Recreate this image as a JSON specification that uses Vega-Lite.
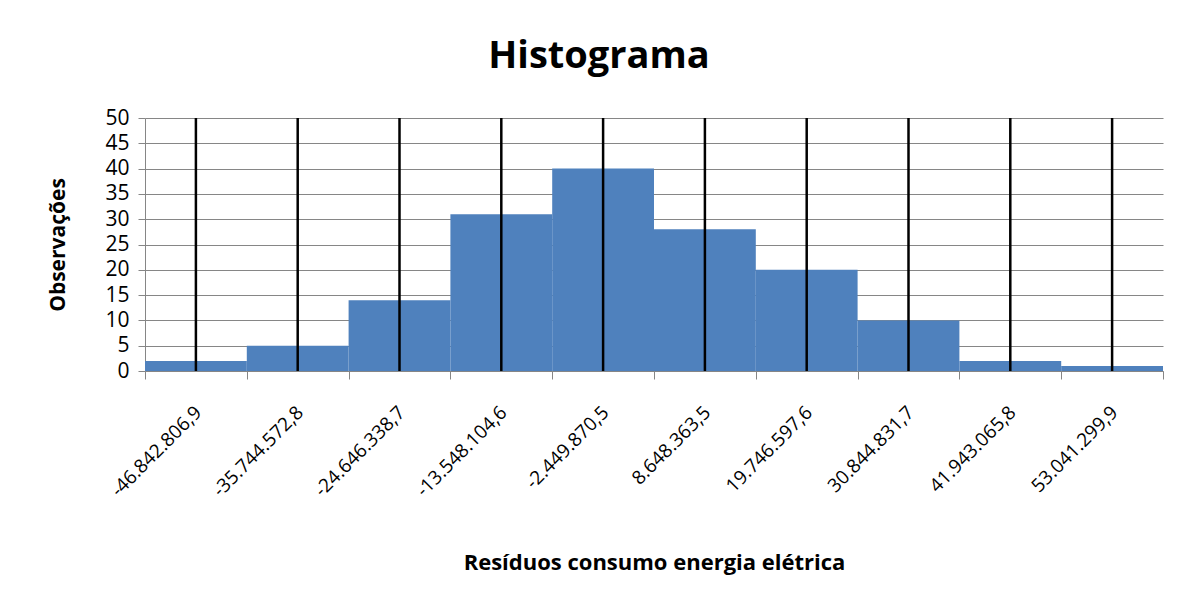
{
  "$schema": "https://vega.github.io/schema/vega-lite/v6.json",
  "width": 1018,
  "height": 253,
  "autosize": {"type": "none"},
  "padding": {"left": 145, "top": 118, "right": 28, "bottom": 237},
  "background": "white",
  "title": {"text": "Histograma", "fontSize": 38, "font": "Open Sans", "fontWeight": "bold", "anchor": "middle", "dx": -55, "offset": 31, "color": "black"},
  "data": {"values": [
    {"bin": "-46.842.806,9", "count": 2},
    {"bin": "-35.744.572,8", "count": 5},
    {"bin": "-24.646.338,7", "count": 14},
    {"bin": "-13.548.104,6", "count": 31},
    {"bin": "-2.449.870,5", "count": 40},
    {"bin": "8.648.363,5", "count": 28},
    {"bin": "19.746.597,6", "count": 20},
    {"bin": "30.844.831,7", "count": 10},
    {"bin": "41.943.065,8", "count": 2},
    {"bin": "53.041.299,9", "count": 1}
  ]},
  "layer": [
    {
      "mark": {"type": "bar", "color": "#4F81BD"},
      "encoding": {
        "x": {
          "field": "bin", "type": "ordinal", "sort": null,
          "scale": {"paddingInner": 0, "paddingOuter": 0},
          "axis": {
            "title": "Resíduos consumo energia elétrica",
            "titleFont": "Open Sans", "titleFontSize": 22, "titleFontWeight": "bold", "titleColor": "black",
            "titleY": 191, "titleBaseline": "middle",
            "labelAngle": -45, "labelAlign": "right", "labelBaseline": "middle",
            "labelFont": "Open Sans", "labelFontSize": 19, "labelColor": "black",
            "labelPadding": 30, "labelOffset": 2, "labelOverlap": false, "labelLimit": 0,
            "tickBand": "extent", "tickColor": "#868686", "tickSize": 8,
            "domainColor": "#868686", "grid": false
          }
        },
        "y": {
          "field": "count", "type": "quantitative",
          "scale": {"domain": [0, 50], "nice": false},
          "axis": {
            "values": [0, 5, 10, 15, 20, 25, 30, 35, 40, 45, 50],
            "title": "Observações",
            "titleFont": "Open Sans", "titleFontSize": 21, "titleFontWeight": "bold", "titleColor": "black",
            "titleX": -87, "titleBaseline": "middle",
            "labelFont": "Open Sans", "labelFontSize": 21, "labelColor": "black", "labelPadding": 9,
            "tickColor": "#868686", "tickSize": 7, "domainColor": "#868686",
            "grid": true, "gridColor": "#868686", "gridOpacity": 1, "gridWidth": 1
          }
        }
      }
    },
    {
      "mark": {"type": "rule", "color": "black", "strokeWidth": 2.5},
      "encoding": {
        "x": {"field": "bin", "type": "ordinal", "sort": null}
      }
    }
  ],
  "config": {"view": {"stroke": null}}
}
